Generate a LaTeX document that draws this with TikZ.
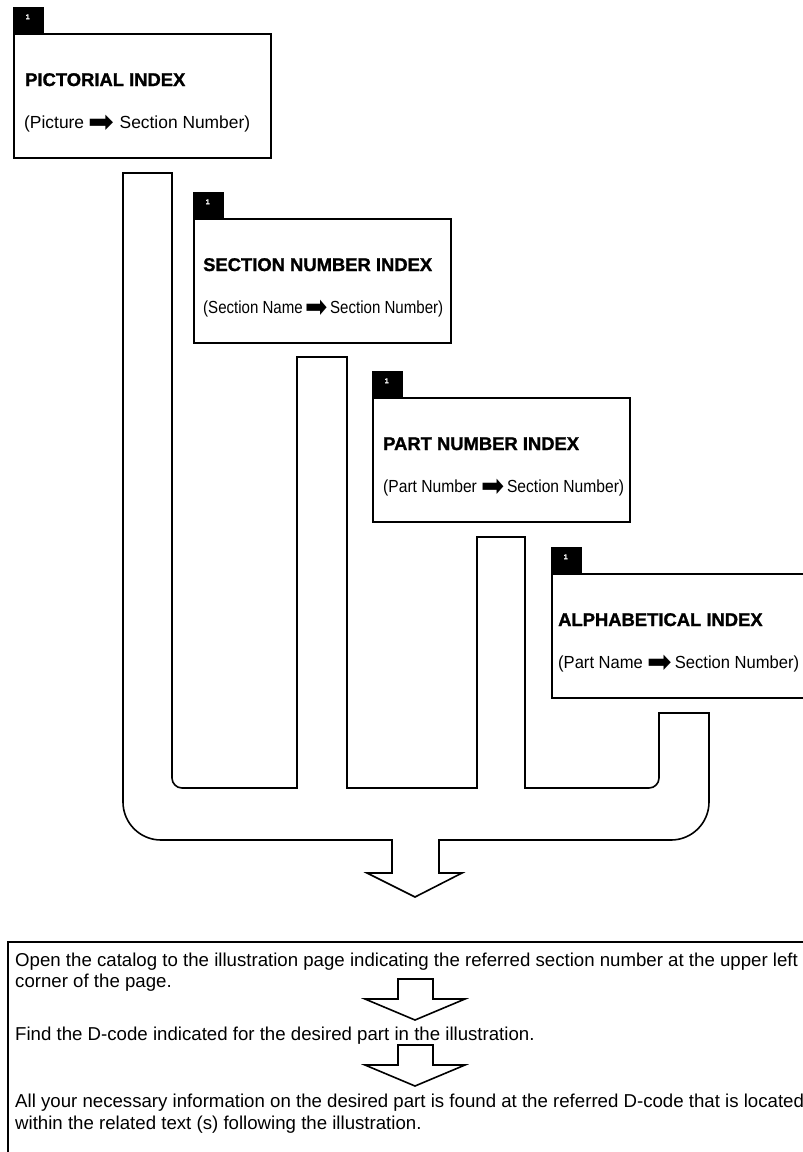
\documentclass[tikz,border=0pt]{standalone}
\usepackage{fontspec}
\setmainfont{Liberation Sans}[BoldFeatures={FakeBold=1.3}]
\newfontfamily\symfont{DejaVu Sans}
\usetikzlibrary{calc}
\newcommand{\bigarr}{{\fontsize{31}{31}\selectfont\symfont\raisebox{-4pt}{➡}}}
\newcommand{\fitw}[2]{\resizebox{#1}{\height}{#2}}

\begin{document}
\begin{tikzpicture}[x=1pt,y=-1pt,
  line join=miter,
  idxbox/.style={draw, line width=1.6pt, minimum width=257pt, minimum height=124pt, anchor=north west, inner sep=0pt},
  tabbox/.style={fill=black, minimum width=31pt, minimum height=26pt, anchor=south west, inner sep=0pt},
  tabnum/.style={text=white, inner sep=0pt, font=\fontsize{7}{7}\selectfont\bfseries},
  titletext/.style={anchor=base west, inner sep=0pt, font=\fontsize{18.4}{20}\selectfont\bfseries},
  subtext/.style={anchor=base west, inner sep=0pt, font=\fontsize{17.5}{19}\selectfont},
  bodytext/.style={anchor=base west, inner sep=0pt, font=\fontsize{18.65}{20}\selectfont},
  outline/.style={draw, line width=1.6pt},
]
\useasboundingbox (0,0) rectangle (803,1152);

% index boxes
\foreach \n/\x/\y in {1/13/33, 2/193/218, 3/372/397, 4/551/573}{
  \node[idxbox] (b\n) at (\x,\y) {};
  \node[tabbox] (tab\n) at (b\n.north west) {};
  \node[tabnum] (tn\n) at ($(tab\n.center)+(-1,-3)$) {1};
}

\node[titletext] (t1) at ($(b1.north west)+(12,53)$) {PICTORIAL INDEX};
\node[subtext]   (s1) at ($(b1.north west)+(11,95)$) {\fitw{226pt}{(Picture \bigarr\ Section Number)}};
\node[titletext] (t2) at ($(b2.north west)+(10,53)$) {SECTION NUMBER INDEX};
\node[subtext]   (s2) at ($(b2.north west)+(10,95)$) {\fitw{240pt}{(Section Name\,\bigarr\,Section Number)}};
\node[titletext] (t3) at ($(b3.north west)+(11,53)$) {PART NUMBER INDEX};
\node[subtext]   (s3) at ($(b3.north west)+(11,95)$) {\fitw{241pt}{(Part Number \bigarr\,Section Number)}};
\node[titletext] (t4) at ($(b4.north west)+(7,53)$) {ALPHABETICAL INDEX};
\node[subtext]   (s4) at ($(b4.north west)+(7,95)$) {\fitw{241pt}{(Part Name \bigarr\,Section Number)}};

% collecting manifold with the big arrow
\draw[outline]
 (123,173) -- (172,173) -- (172,778) .. controls (172,783.5) and (176.5,788) .. (182,788)
 -- (297,788) -- (297,357) -- (347,357) -- (347,788) -- (477,788) -- (477,537) -- (525,537)
 -- (525,788) -- (649,788) .. controls (654.5,788) and (659,783.5) .. (659,778)
 -- (659,713) -- (709,713) -- (709,802) .. controls (709,823) and (692,840) .. (671,840)
 -- (439,840) -- (439,873) -- (462,873) -- (415,897) -- (367,873) -- (392,873) -- (392,840)
 -- (161,840) .. controls (140,840) and (123,823) .. (123,802) -- cycle;

% bottom procedure box
\draw[outline] (8,942) rectangle (820,1170);
\node[bodytext] (l1) at (15,966) {Open the catalog to the illustration page indicating the referred section number at the upper left};
\node[bodytext] (l2) at (15,987) {corner of the page.};
\node[bodytext] (l3) at (15,1040) {Find the D-code indicated for the desired part in the illustration.};
\node[bodytext] (l4) at (15,1107) {All your necessary information on the desired part is found at the referred D-code that is located};
\node[bodytext] (l5) at (15,1129) {within the related text (s) following the illustration.};

% small arrows
\draw[outline] (398,979) -- (433,979) -- (433,999) -- (465,999) -- (415,1020) -- (365,999) -- (398,999) -- cycle;
\draw[outline] (398,1045) -- (433,1045) -- (433,1065) -- (465,1065) -- (415,1086) -- (365,1065) -- (398,1065) -- cycle;
\end{tikzpicture}
\end{document}
